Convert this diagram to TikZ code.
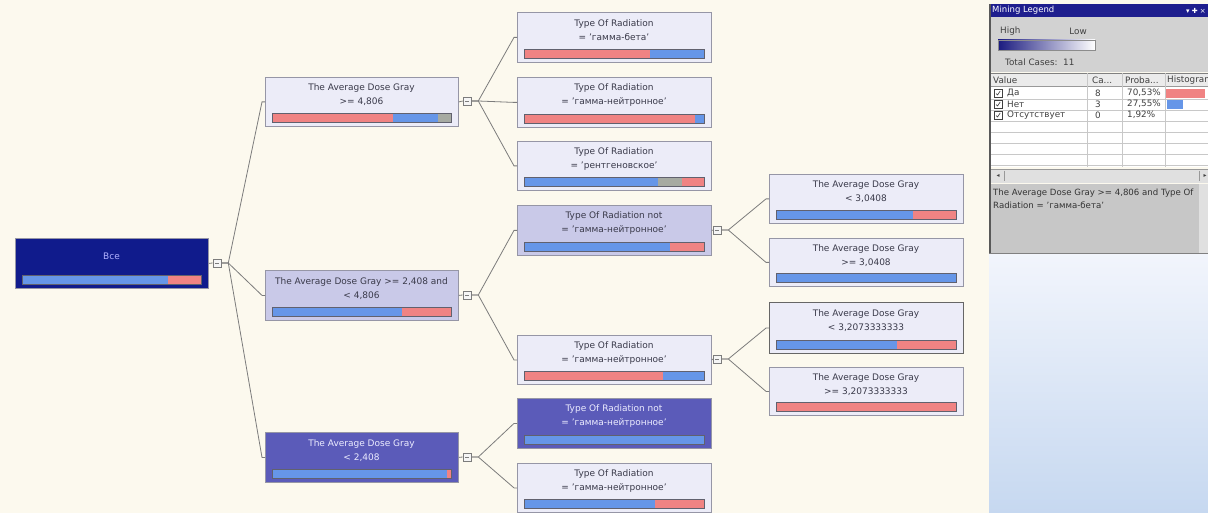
\documentclass[tikz,border=0pt]{standalone}
\usepackage{fontspec}
\setmainfont{DejaVu Sans}
\usetikzlibrary{calc}
\definecolor{bgcream}{HTML}{FCF9EE}
\definecolor{salmon}{HTML}{F08383}
\definecolor{cblue}{HTML}{6696E8}
\definecolor{bgray}{HTML}{A6AAA2}
\definecolor{boxlight}{HTML}{ECECF8}
\definecolor{boxmid}{HTML}{C9C9E8}
\definecolor{boxdark}{HTML}{5B5BB9}
\definecolor{boxroot}{HTML}{101B8C}
\definecolor{edgegray}{HTML}{7C7C7C}
\definecolor{boxline}{HTML}{9696A6}
\definecolor{txtdark}{HTML}{3A3A4A}
\definecolor{txtlight}{HTML}{ECECFF}
\definecolor{titlenavy}{HTML}{1E1E8E}
\definecolor{pgray}{HTML}{D2D2D2}
\definecolor{pgrid}{HTML}{C8C8C8}
\definecolor{panelTop}{HTML}{F2F5FC}
\definecolor{panelBot}{HTML}{C6D8F0}
\newcommand{\q}{\char"0027\relax}
\tikzset{
  lightbox/.style={draw=boxline, fill=boxlight, line width=0.8pt, inner sep=0pt},
  midbox/.style={draw=boxline, fill=boxmid, line width=0.8pt, inner sep=0pt},
  darkbox/.style={draw=boxline, fill=boxdark, line width=0.8pt, inner sep=0pt},
  rootbox/.style={draw=boxline, fill=boxroot, line width=0.8pt, inner sep=0pt},
  selbox/.style={draw=black!60, fill=boxlight, line width=1.1pt, inner sep=0pt},
  tlabel/.style={align=center, inner sep=0pt, font=\fontsize{9}{14}\selectfont},
  barline/.style={draw=txtdark!80, line width=0.6pt},
  edge/.style={draw=edgegray, line width=0.8pt},
  expander/.style={draw=edgegray, fill=white!92!gray, minimum size=8pt, inner sep=0pt, line width=0.6pt,
    path picture={\draw[edgegray, line width=0.5pt] ([xshift=-2pt]path picture bounding box.center) -- ([xshift=2pt]path picture bounding box.center);}},
  ptext/.style={inner sep=0pt, font=\fontsize{8.8}{10}\selectfont, text=black!75},
}
% name, x1, y1, x2, y2, box style, text colour, text, bar spec (colour/end fraction)
\newcommand{\dtnode}[9]{%
  \node[#6, anchor=north west, minimum width={(#4)-(#2)}, minimum height={(#5)-(#3)}] (#1) at (#2,#3) {};
  \node[tlabel, text=#7] (#1-t) at ({((#2)+(#4))/2},{((#3)+(#5)-13)/2}) {#8};
  \foreach \segc/\sege [remember=\sege as \segs (initially 0)] in {#9}{
    \fill[\segc] ({#2+7+(#4-#2-14)*\segs},{#5-13}) rectangle ({#2+7+(#4-#2-14)*\sege},{#5-4});
  }
  \draw[barline] (#2+7,#5-13) rectangle (#4-7,#5-4);
}
\newcommand{\branch}[2]{\draw[edge] (#1.east) -- ++(7,0) -- ([xshift=-3pt]#2.west) -- (#2.west);}
\begin{document}
\begin{tikzpicture}[x=1pt,y=-1pt]
\useasboundingbox (0,0) rectangle (1208,513);
\fill[bgcream] (0,0) rectangle (1208,513);

% ---- tree nodes ----
\dtnode{root}{15}{238}{208}{288}{rootbox}{txtlight!75!blue}{Все}{cblue/0.815,salmon/1}
\dtnode{n1}{265}{77}{458}{126}{lightbox}{txtdark}{The Average Dose Gray\\>= 4,806}{salmon/0.676,cblue/0.93,bgray/1}
\dtnode{n2}{265}{270}{458}{320}{midbox}{txtdark}{The Average Dose Gray >= 2,408 and\\< 4,806}{cblue/0.726,salmon/1}
\dtnode{n3}{265}{432}{458}{482}{darkbox}{txtlight}{The Average Dose Gray\\< 2,408}{cblue/0.977,salmon/1}

\dtnode{a1}{517}{12}{711}{62}{lightbox}{txtdark}{Type Of Radiation\\= \q гамма-бета\q}{salmon/0.70,cblue/1}
\dtnode{a2}{517}{77}{711}{127}{lightbox}{txtdark}{Type Of Radiation\\= \q гамма-нейтронное\q}{salmon/0.95,cblue/1}
\dtnode{a3}{517}{141}{711}{190}{lightbox}{txtdark}{Type Of Radiation\\= \q рентгеновское\q}{cblue/0.744,bgray/0.878,salmon/1}
\dtnode{b1}{517}{205}{711}{255}{midbox}{txtdark}{Type Of Radiation not\\= \q гамма-нейтронное\q}{cblue/0.81,salmon/1}
\dtnode{b2}{517}{335}{711}{384}{lightbox}{txtdark}{Type Of Radiation\\= \q гамма-нейтронное\q}{salmon/0.77,cblue/1}
\dtnode{c1}{517}{398}{711}{448}{darkbox}{txtlight}{Type Of Radiation not\\= \q гамма-нейтронное\q}{cblue/1}
\dtnode{c2}{517}{463}{711}{512}{lightbox}{txtdark}{Type Of Radiation\\= \q гамма-нейтронное\q}{cblue/0.73,salmon/1}

\dtnode{d1}{769}{174}{963}{223}{lightbox}{txtdark}{The Average Dose Gray\\< 3,0408}{cblue/0.76,salmon/1}
\dtnode{d2}{769}{238}{963}{286}{lightbox}{txtdark}{The Average Dose Gray\\>= 3,0408}{cblue/1}
\dtnode{e1}{769}{302}{963}{353}{selbox}{txtdark}{The Average Dose Gray\\< 3,2073333333}{cblue/0.67,salmon/1}
\dtnode{e2}{769}{367}{963}{415}{lightbox}{txtdark}{The Average Dose Gray\\>= 3,2073333333}{salmon/1}

% ---- expanders ----
\node[expander] (x0) at (217,263) {};
\node[expander] (x1) at (467,101) {};
\node[expander] (x2) at (467,295) {};
\node[expander] (x3) at (467,457) {};
\node[expander] (x4) at (717,230) {};
\node[expander] (x5) at (717,359) {};

% ---- connectors ----
\draw[edge] (root.east) -- (x0.west);
\draw[edge] (n1.east) -- (x1.west);
\draw[edge] (n2.east) -- (x2.west);
\draw[edge] (n3.east) -- (x3.west);
\draw[edge] (b1.east) -- (x4.west);
\draw[edge] (b2.east) -- (x5.west);
\branch{x0}{n1}\branch{x0}{n2}\branch{x0}{n3}
\branch{x1}{a1}\branch{x1}{a2}\branch{x1}{a3}
\branch{x2}{b1}\branch{x2}{b2}
\branch{x3}{c1}\branch{x3}{c2}
\branch{x4}{d1}\branch{x4}{d2}
\branch{x5}{e1}\branch{x5}{e2}

% ---- mining legend panel ----
\begin{scope}
\clip (989,0) rectangle (1208,513);
\shade[top color=panelTop, bottom color=panelBot] (989,253) rectangle (1208,513);
\fill[titlenavy] (989,4) rectangle (1208,17);
\node[ptext, anchor=west, text=white, font=\fontsize{8.5}{9}\selectfont] (lgtitle) at (992,10.5) {Mining Legend};
\node[ptext, anchor=east, text=white, font=\fontsize{7}{8}\selectfont] (lgicons) at (1206,10.5) {▾ ✚ ×};
\fill[pgray] (989,17) rectangle (1208,72);
\node[ptext, anchor=west] (lghigh) at (1000,31) {High};
\node[ptext, anchor=east] (lglow) at (1087,31) {Low};
\shade[left color=titlenavy!90!black, right color=white] (998,40) rectangle (1095,50);
\draw[black!45, line width=0.5pt] (998,40) rectangle (1095,50);
\node[ptext, anchor=west] (lgtotal) at (1005,62) {Total Cases:\ \ 11};
% table
\fill[white] (991,73) rectangle (1208,167);
\fill[black!8] (991,73) rectangle (1208,86);
\draw[black!50, line width=0.5pt] (991,73) -- (1208,73);
\draw[black!40, line width=0.5pt] (991,86) -- (1208,86);
\foreach \ry in {99,110,121,132,143,154,165}{\draw[pgrid, line width=0.4pt] (991,\ry) -- (1208,\ry);}
\foreach \cx in {1087,1122,1165}{\draw[pgrid, line width=0.5pt] (\cx,73) -- (\cx,167);}
\node[ptext, anchor=west] (hval) at (993,80) {Value};
\node[ptext, anchor=west] (hcas) at (1092,80) {Ca...};
\node[ptext, anchor=west] (hpro) at (1125,80) {Proba...};
\node[ptext, anchor=west] (hhis) at (1167,80) {Histogram};
\foreach \ry/\nm/\cs/\pr [count=\k] in {93/Да/8/{70,53\%},104/Нет/3/{27,55\%},115/Отсутствует/0/{1,92\%}}{
  \node[draw=black!75, fill=white, line width=0.7pt, minimum size=8pt, inner sep=0pt] (chk\k) at (998,\ry) {};
  \draw[black!80, line width=0.6pt] ($(chk\k.center)+(-2,0.5)$) -- ($(chk\k.center)+(-0.5,2)$) -- ($(chk\k.center)+(2.2,-2)$);
  \node[ptext, anchor=west] (rv\k) at (1007,\ry) {\nm};
  \node[ptext, anchor=west] (rc\k) at (1095,\ry) {\cs};
  \node[ptext, anchor=west] (rp\k) at (1127,\ry) {\pr};
}
\fill[salmon] (1166,89) rectangle (1205,98);
\fill[cblue] (1167,100) rectangle (1183,109);
% horizontal scrollbar
\fill[black!12] (991,169) rectangle (1208,183);
\draw[black!40, line width=0.5pt] (991,169) -- (1208,169);
\node[ptext, font=\fontsize{6}{7}\selectfont] (sbl) at (998,176) {◂};
\draw[black!40, line width=0.5pt] (1004,171) -- (1004,181);
\draw[black!40, line width=0.5pt] (1199,171) -- (1199,181);
\node[ptext, font=\fontsize{6}{7}\selectfont] (sbr) at (1205,176) {▸};
% description
\fill[black!22] (991,184) rectangle (1208,253);
\fill[black!12] (1199,184) rectangle (1208,253);
\node[ptext, anchor=north west, align=left, font=\fontsize{8.6}{12.5}\selectfont, text=black!80] (desc) at (993,189)
  {The Average Dose Gray >= 4,806 and Type Of\\Radiation = \q гамма-бета\q};
\draw[black!50, line width=0.6pt] (989,253) -- (1208,253);
\fill[black!65] (989,4) rectangle (991,253);
\end{scope}
\end{tikzpicture}
\end{document}
